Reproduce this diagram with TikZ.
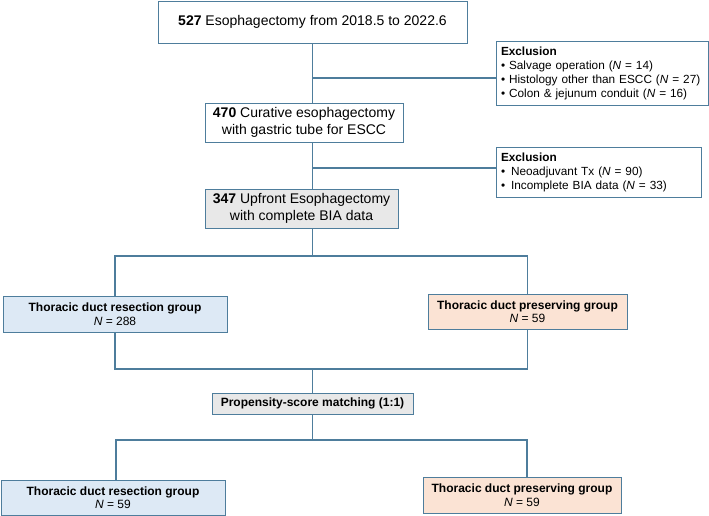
\documentclass[tikz,border=0pt]{standalone}
\usepackage{fontspec}
\setmainfont{Liberation Sans}
\definecolor{linecol}{RGB}{78,125,156}
\definecolor{bluefill}{RGB}{221,233,245}
\definecolor{peachfill}{RGB}{251,227,212}
\definecolor{greyfill}{RGB}{232,232,232}
\begin{document}
\begin{tikzpicture}[x=1pt, y=1pt,
    % Estilos
    stagebox/.style={
        draw=linecol, line width=1pt, fill=white, inner sep=0pt,
        align=center, font=\fontsize{14}{17.5}\selectfont
    },
    exclbox/.style={
        draw=linecol, line width=1pt, fill=white, inner xsep=5pt, inner ysep=0pt,
        align=left, font=\fontsize{11.8}{14}\selectfont
    },
    groupbox/.style={
        draw=linecol, line width=1pt, inner sep=0pt, align=center,
        minimum width=199pt, minimum height=35pt,
        font=\fontsize{12}{13.5}\selectfont
    },
    link/.style={draw=linecol, line width=1.2pt}
]
\useasboundingbox (0,0) rectangle (709,-515);

% =============================================
% ETAPAS DE SELECCION
% =============================================
\node[stagebox, minimum width=309pt, minimum height=42pt] (total) at (312.5,-22)
    {\textbf{527} Esophagectomy from 2018.5 to 2022.6};

\node[stagebox, minimum width=198pt, minimum height=39pt] (curative) at (304,-122.5)
    {\textbf{470} Curative esophagectomy\\with gastric tube for ESCC};

\node[stagebox, fill=greyfill, minimum width=193pt, minimum height=39pt] (upfront) at (301.5,-208.5)
    {\textbf{347} Upfront Esophagectomy\\with complete BIA data};

% =============================================
% EXCLUSIONES
% =============================================
\node[exclbox, text width=202pt, minimum height=64pt] (excl1) at (602,-73)
    {\textbf{Exclusion}\\
     \textbullet\ Salvage operation (\textit{N} = 14)\\
     \textbullet\ Histology other than ESCC (\textit{N} = 27)\\
     \textbullet\ Colon \& jejunum conduit (\textit{N} = 16)};

\node[exclbox, text width=195pt, minimum height=50pt] (excl2) at (598.5,-172)
    {\textbf{Exclusion}\\
     \textbullet\enspace Neoadjuvant Tx (\textit{N} = 90)\\
     \textbullet\enspace Incomplete BIA data (\textit{N} = 33)};

% =============================================
% GRUPOS
% =============================================
\node[groupbox, fill=bluefill, minimum width=224pt, minimum height=36pt] (resect) at (115,-314)
    {\textbf{Thoracic duct resection group}\\\textit{N} = 288};

\node[groupbox, fill=peachfill] (preserve) at (527.5,-311.5)
    {\textbf{Thoracic duct preserving group}\\\textit{N} = 59};

\node[stagebox, fill=greyfill, minimum width=201pt, minimum height=21pt,
    font=\fontsize{12}{14}\selectfont\bfseries] (psm) at (312.5,-403.5)
    {Propensity-score matching (1:1)};

\node[groupbox, fill=bluefill, minimum width=224pt] (resectm) at (113,-497.5)
    {\textbf{Thoracic duct resection group}\\\textit{N} = 59};

\node[groupbox, fill=peachfill, minimum width=198pt, minimum height=36pt] (preservem) at (522,-495)
    {\textbf{Thoracic duct preserving group}\\\textit{N} = 59};

% =============================================
% CONEXIONES
% =============================================
\coordinate (cut1) at (312.5,-78);
\coordinate (cut2) at (312.5,-168);
\coordinate (split1) at (312.5,-256);
\coordinate (join1) at (312.5,-369);
\coordinate (split2) at (312.5,-440);

\draw[link] (total.south) -- (total.south |- curative.north);
\draw[link] (cut1) -- (cut1 -| excl1.west);
\draw[link] (total.south |- curative.south) -- (total.south |- upfront.north);
\draw[link] (cut2) -- (cut2 -| excl2.west);
\draw[link] (total.south |- upfront.south) -- (split1);

\draw[link] (resect.north) -- (resect.north |- split1) -- (split1 -| preserve.north) -- (preserve.north);
\draw[link] (resect.south) -- (resect.south |- join1) -- (join1 -| preserve.south) -- (preserve.south);
\draw[link] (join1) -- (psm.north);
\draw[link] (psm.south) -- (split2);
\draw[link] ([xshift=3pt]resectm.north) -- ([xshift=3pt]resectm.north |- split2)
    -- ([xshift=5pt]split2 -| preservem.north) -- ([xshift=5pt]preservem.north);

\end{tikzpicture}
\end{document}
